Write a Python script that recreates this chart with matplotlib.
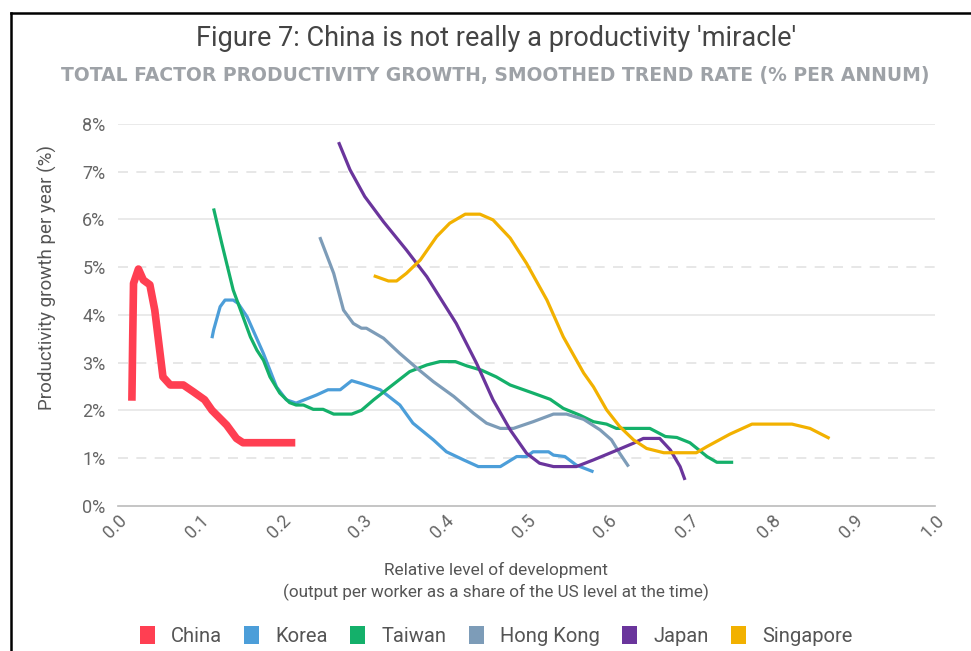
"""
Total factor productivity growth against relative level of development
"""
import matplotlib
matplotlib.use("Agg")
from matplotlib import pyplot as plt
from matplotlib.lines import Line2D
from matplotlib.patches import Patch
from matplotlib.ticker import MultipleLocator, FuncFormatter

plt.rcParams["font.family"] = ["Roboto", "DejaVu Sans"]

# Output per worker as a share of the US level, and smoothed TFP growth (%)
china_x = [0.017, 0.018, 0.019, 0.025, 0.031, 0.039, 0.045, 0.049, 0.055, 0.064,
           0.080, 0.092, 0.106, 0.115, 0.133, 0.145, 0.153, 0.217]
china_y = [2.2, 3.5, 4.66, 4.96, 4.73, 4.63, 4.1, 3.54, 2.7, 2.53,
           2.53, 2.39, 2.22, 2.0, 1.69, 1.41, 1.32, 1.32]

korea_x = [0.115, 0.117, 0.125, 0.131, 0.141, 0.147, 0.158, 0.178, 0.194, 0.206,
           0.218, 0.243, 0.257, 0.272, 0.286, 0.298, 0.321, 0.345, 0.361, 0.386,
           0.402, 0.423, 0.441, 0.468, 0.488, 0.500, 0.508, 0.527, 0.533, 0.547,
           0.561, 0.582]
korea_y = [3.51, 3.68, 4.17, 4.31, 4.31, 4.24, 3.96, 3.19, 2.49, 2.22,
           2.15, 2.32, 2.43, 2.43, 2.62, 2.56, 2.43, 2.11, 1.73, 1.38,
           1.13, 0.96, 0.82, 0.82, 1.03, 1.03, 1.13, 1.13, 1.06, 1.03,
           0.85, 0.71]

taiwan_x = [0.117, 0.127, 0.141, 0.153, 0.162, 0.170, 0.178, 0.186, 0.198, 0.210,
            0.218, 0.227, 0.239, 0.251, 0.264, 0.286, 0.298, 0.313, 0.333, 0.357,
            0.378, 0.394, 0.413, 0.427, 0.445, 0.463, 0.480, 0.508, 0.529, 0.545,
            0.565, 0.582, 0.598, 0.610, 0.651, 0.670, 0.684, 0.700, 0.721, 0.733,
            0.753]
taiwan_y = [6.23, 5.5, 4.52, 3.96, 3.54, 3.26, 3.05, 2.7, 2.36, 2.16,
            2.11, 2.11, 2.02, 2.02, 1.92, 1.92, 2.0, 2.22, 2.49, 2.81,
            2.95, 3.02, 3.02, 2.93, 2.84, 2.7, 2.53, 2.36, 2.23, 2.04,
            1.9, 1.76, 1.71, 1.62, 1.62, 1.45, 1.43, 1.32, 1.03, 0.91,
            0.91]

hongkong_x = [0.247, 0.264, 0.276, 0.288, 0.298, 0.304, 0.325, 0.345, 0.366, 0.386,
              0.411, 0.435, 0.451, 0.468, 0.484, 0.508, 0.533, 0.549, 0.570, 0.590,
              0.604, 0.614, 0.625]
hongkong_y = [5.63, 4.87, 4.1, 3.82, 3.72, 3.72, 3.51, 3.19, 2.88, 2.6,
              2.29, 1.94, 1.73, 1.62, 1.62, 1.76, 1.92, 1.92, 1.81, 1.59,
              1.38, 1.1, 0.82]

japan_x = [0.270, 0.284, 0.302, 0.325, 0.353, 0.378, 0.414, 0.439, 0.459, 0.480,
           0.500, 0.516, 0.533, 0.561, 0.582, 0.606, 0.631, 0.643, 0.663, 0.676,
           0.688, 0.694]
japan_y = [7.62, 7.04, 6.48, 5.95, 5.36, 4.8, 3.82, 2.98, 2.22, 1.59,
           1.1, 0.89, 0.82, 0.82, 0.96, 1.13, 1.31, 1.41, 1.41, 1.17,
           0.82, 0.54]

singapore_x = [0.313, 0.331, 0.341, 0.353, 0.370, 0.390, 0.406, 0.425, 0.443, 0.459,
               0.480, 0.500, 0.525, 0.545, 0.570, 0.582, 0.598, 0.614, 0.631, 0.647,
               0.668, 0.708, 0.721, 0.749, 0.776, 0.825, 0.847, 0.871]
singapore_y = [4.82, 4.71, 4.71, 4.87, 5.15, 5.64, 5.92, 6.11, 6.11, 5.99,
               5.61, 5.08, 4.31, 3.54, 2.78, 2.49, 2.01, 1.66, 1.38, 1.2,
               1.11, 1.11, 1.24, 1.5, 1.71, 1.71, 1.62, 1.41]

SERIES = [
    ("China", china_x, china_y, "#ff3f52", 5.5),
    ("Korea", korea_x, korea_y, "#4c9ed9", 2.3),
    ("Taiwan", taiwan_x, taiwan_y, "#14b06a", 2.3),
    ("Hong Kong", hongkong_x, hongkong_y, "#7d9cb8", 2.3),
    ("Japan", japan_x, japan_y, "#6a359c", 2.3),
    ("Singapore", singapore_x, singapore_y, "#f2b100", 2.3),
]

fig = plt.figure(figsize=(9.71, 6.51), dpi=100)
W, H = 971.0, 651.0
ax = fig.add_axes([118 / W, 1 - 505.7 / H, (935 - 118) / W, (505.7 - 124) / H])

for name, x, y, color, lw in SERIES:
    ax.plot(x, y, color=color, linewidth=lw, solid_capstyle="butt",
            solid_joinstyle="round", label=name, zorder=3)

ax.set_xlim(0, 1.0)
ax.set_ylim(0, 8)
ax.xaxis.set_major_locator(MultipleLocator(0.1))
ax.yaxis.set_major_locator(MultipleLocator(1))
ax.xaxis.set_major_formatter(FuncFormatter(lambda v, p: "%.1f" % v))
ax.yaxis.set_major_formatter(FuncFormatter(lambda v, p: "%d%%" % v))

# Solid gridlines on even percentages, dashed on odd ones
for v in range(1, 9):
    if v % 2 == 0:
        ax.axhline(v, color="#e6e6e6", linewidth=1.2, zorder=1)
    else:
        ax.axhline(v, color="#e3e3e3", linewidth=1.2, dashes=(6, 5), zorder=1)

for side in ["top", "right", "left"]:
    ax.spines[side].set_visible(False)
ax.spines["bottom"].set_color("#bbbbbb")
ax.spines["bottom"].set_linewidth(1.2)
ax.tick_params(axis="both", length=0, labelsize=13, labelcolor="#666666")
ax.tick_params(axis="y", pad=9)
ax.tick_params(axis="x", pad=4)
for lbl in ax.get_xticklabels():
    lbl.set_rotation(45)
    lbl.set_ha("right")
    lbl.set_va("top")
    lbl.set_rotation_mode("anchor")

fig.text(47 / W, 1 - 277 / H, "Productivity growth per year (%)", rotation=90,
         ha="center", va="center", fontsize=13.5, color="#555555")

fig.text(496 / W, 1 - 570 / H, "Relative level of development", ha="center",
         va="center", fontsize=12.4, color="#555555")
fig.text(496 / W, 1 - 592 / H,
         "(output per worker as a share of the US level at the time)",
         ha="center", va="center", fontsize=12.3, color="#555555")

fig.text(496 / W, 1 - 38 / H,
         "Figure 7: China is not really a productivity 'miracle'",
         ha="center", va="center", fontsize=19.5, color="#444444")
fig.text(495 / W, 1 - 76 / H,
         "TOTAL FACTOR PRODUCTIVITY GROWTH, SMOOTHED TREND RATE (% PER ANNUM)",
         ha="center", va="center", fontsize=13.5, color="#9ea2a7",
         fontweight="bold", family=["DejaVu Sans"])

handles = [Patch(facecolor=c, edgecolor="none", label=n) for n, _, _, c, _ in SERIES]
fig.legend(handles=handles, loc="center", bbox_to_anchor=(496 / W, 1 - 636 / H),
           ncol=6, frameon=False, fontsize=14.5, handlelength=0.75,
           handleheight=1.0, handletextpad=0.8, columnspacing=1.1,
           labelcolor="#555555")

# Page frame along the top and left edges
fig.add_artist(Line2D([11 / W, 11 / W], [0, 1 - 13 / H], transform=fig.transFigure,
                      color="black", linewidth=1.8))
fig.add_artist(Line2D([11 / W, 1], [1 - 13 / H, 1 - 13 / H], transform=fig.transFigure,
                      color="black", linewidth=1.8))

fig.savefig("out.png", dpi=100)
